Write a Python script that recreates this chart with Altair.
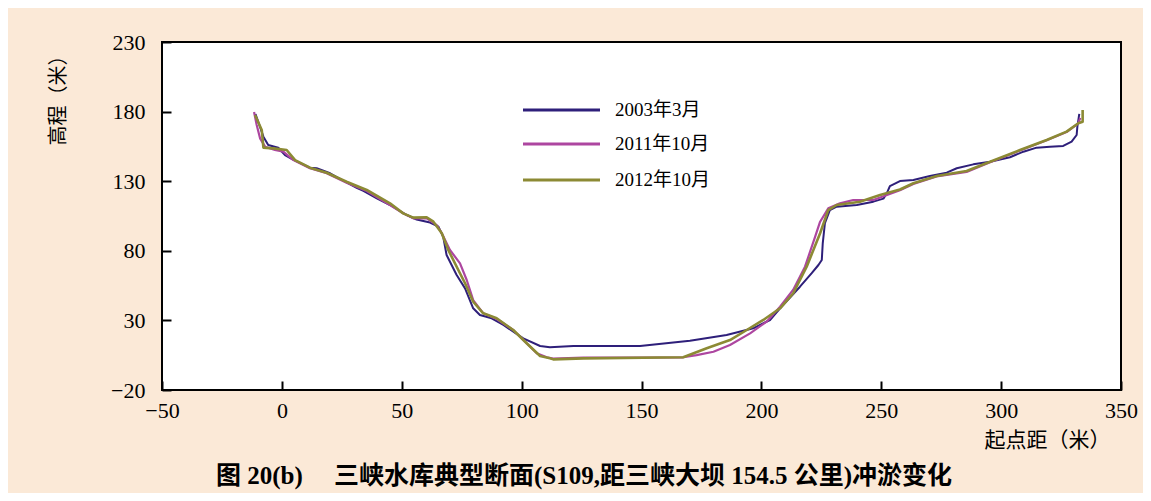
import altair as alt
import pandas as pd

# ---- data (distance from start point, elevation) ----
x_2003 = [-11.0, -7.7, -5.7, -1.5, 1.3, 4.1, 11.7, 14.5, 20.1, 24.2, 31.2, 34.0, 39.6, 45.1,
          52.1, 56.2, 61.8, 65.3, 67.3, 68.7, 72.9, 76.4, 79.8, 82.6, 87.5, 92.4, 100.7, 107.7,
          111.8, 121.6, 149.4, 170.2, 185.5, 196.6, 203.6, 207.8, 216.1, 221.0, 223.8, 225.2,
          225.6, 226.5, 228.6, 231.4, 239.8, 246.7, 250.9, 252.3, 253.6, 257.8, 263.4, 270.3,
          277.3, 281.5, 288.4, 295.4, 303.7, 309.3, 314.8, 320.4, 325.9, 329.4, 331.5, 331.8, 332.6]
y_2003 = [178.3, 162.0, 156.0, 154.0, 148.8, 146.0, 139.7, 139.3, 135.7, 131.6, 125.3, 123.0, 117.7, 112.9,
          105.7, 102.5, 100.3, 97.3, 90.0, 77.0, 62.6, 53.0, 38.7, 33.9, 31.5, 26.7, 17.1, 11.6,
          10.7, 11.6, 11.6, 15.4, 19.5, 24.3, 30.3, 38.7, 54.2, 63.9, 69.8, 73.4,
          85.4, 99.8, 109.3, 111.7, 112.9, 115.3, 117.5, 121.3, 126.5, 130.1, 130.9, 133.7,
          136.1, 139.3, 142.1, 144.0, 147.2, 151.2, 154.1, 154.8, 155.3, 158.4, 163.2, 169.2, 178.3]

x_2011 = [-11.6, -10.5, -9.1, -7.0, -2.9, 0.6, 4.8, 11.7, 18.7, 27.0, 35.4, 45.1, 50.6, 54.8,
          60.4, 64.6, 66.7, 70.1, 74.3, 77.1, 79.8, 84.0, 89.6, 96.5, 102.1, 106.3, 110.5, 113.2,
          125.8, 167.4, 173.0, 180.0, 186.9, 195.3, 202.2, 207.8, 213.3, 218.2, 222.4, 224.5,
          227.9, 232.8, 238.3, 246.7, 257.8, 263.4, 273.1, 285.6, 295.4, 307.9, 319.0, 327.3,
          332.2, 333.0]
y_2011 = [179.7, 170.4, 160.8, 154.8, 152.4, 151.2, 145.2, 139.3, 135.7, 128.9, 123.0, 112.9, 106.9, 103.3,
          103.3, 98.5, 92.6, 80.6, 71.0, 59.0, 44.6, 35.1, 31.0, 23.1, 13.6, 6.4, 3.5, 2.5,
          3.2, 3.5, 5.1, 7.5, 12.3, 20.7, 29.1, 39.9, 52.1, 68.6, 90.0, 100.9,
          110.5, 114.1, 116.5, 116.5, 123.5, 128.0, 133.4, 136.6, 143.6, 152.0, 159.4, 165.3,
          171.6, 175.5]

x_2012 = [-11.2, -8.4, -7.7, -3.6, 2.0, 5.5, 11.7, 18.7, 27.0, 35.4, 45.1, 50.6, 54.8, 60.4,
          63.2, 66.7, 69.4, 73.6, 76.4, 79.8, 84.0, 89.6, 96.5, 102.1, 107.7, 111.8, 113.2, 125.8,
          167.4, 177.2, 186.9, 193.9, 200.8, 207.8, 213.3, 218.9, 224.5, 227.9, 231.4, 241.1,
          249.5, 257.8, 263.4, 273.1, 285.6, 295.4, 307.9, 319.0, 327.3, 332.2, 334.0, 334.0]
y_2012 = [177.6, 166.8, 154.1, 153.6, 152.4, 145.2, 139.7, 136.1, 129.6, 123.7, 114.1, 106.9, 103.8, 104.1,
          100.9, 92.6, 80.6, 66.2, 56.7, 43.4, 35.1, 31.5, 23.1, 13.6, 4.4, 2.8, 2.0, 2.7,
          3.5, 10.0, 15.9, 23.1, 30.3, 38.7, 49.5, 68.6, 92.6, 109.3, 112.9, 115.3,
          120.1, 124.0, 128.5, 133.7, 137.3, 144.0, 152.4, 159.6, 165.6, 171.6, 172.7, 181.1]

series_names = ["2003年3月", "2011年10月", "2012年10月"]
series_colors = ["#2E1F7A", "#AD46A0", "#8C8A34"]
series_widths = [2.0, 2.2, 2.6]

x_ticks = [-50, 0, 50, 100, 150, 200, 250, 300, 350]
y_ticks = [-20, 30, 80, 130, 180, 230]

x_title = "起点距（米）"
y_title = "高程（米）"
caption = "图 20(b)\u3000 三峡水库典型断面(S109,距三峡大坝 154.5 公里)冲淤变化"

# ---- build table ----
frames = []
for name, xs, ys in zip(series_names, [x_2003, x_2011, x_2012], [y_2003, y_2011, y_2012]):
    frames.append(pd.DataFrame({"series": name, "x": xs, "y": ys, "i": range(len(xs))}))
df = pd.concat(frames, ignore_index=True)

W, H = 959, 348
SERIF = "Liberation Serif, Noto Sans CJK SC"
CJK = "Noto Sans CJK SC"

xscale = alt.Scale(domain=[-50, 350], nice=False, zero=False)
yscale = alt.Scale(domain=[-20, 230], nice=False, zero=False)

x_label_axis = alt.Axis(orient="bottom", values=x_ticks, ticks=False, tickSize=0, domain=False,
                        grid=False, labelFont=SERIF, labelFontSize=22, labelColor="black",
                        labelPadding=10, labelFlush=False, labelOverlap=False,
                        title=x_title, titleFont=CJK, titleFontSize=21, titleFontWeight="normal",
                        titleColor="black", titleX=885, titleY=50, titleAlign="center",
                        titleBaseline="middle")
y_label_axis = alt.Axis(orient="left", values=y_ticks, ticks=False, tickSize=0, domain=False,
                        grid=False, labelFont=SERIF, labelFontSize=22, labelColor="black",
                        labelPadding=17, labelFlush=False, labelOverlap=False,
                        title=y_title, titleFont=CJK, titleFontSize=20, titleFontWeight="normal",
                        titleColor="black", titleX=-104, titleY=53, titleAlign="center",
                        titleBaseline="middle", titleAngle=270)
x_tick_axis = alt.Axis(orient="top", offset=-H, values=x_ticks, labels=False, ticks=True,
                       tickSize=9, tickWidth=2, tickColor="black", domain=False, grid=False,
                       zindex=2, title=None)
y_tick_axis = alt.Axis(orient="right", offset=-W, values=y_ticks, labels=False, ticks=True,
                       tickSize=9, tickWidth=2, tickColor="black", domain=False, grid=False,
                       zindex=2, title=None)

axes = [(x_label_axis, y_label_axis), (x_tick_axis, y_tick_axis), (None, None)]

layers = []
for k, (name, color, sw) in enumerate(zip(series_names, series_colors, series_widths)):
    xa, ya = axes[k]
    layers.append(
        alt.Chart(df).transform_filter(alt.datum.series == name)
        .mark_line(color=color, strokeWidth=sw, strokeJoin="round")
        .encode(x=alt.X("x:Q", scale=xscale, axis=xa),
                y=alt.Y("y:Q", scale=yscale, axis=ya),
                order="i:Q")
    )

# ---- legend drawn inside the plot ----
legend_rows = [68, 102, 138]
for name, color, ry in zip(series_names, series_colors, legend_rows):
    one = pd.DataFrame({"s": [name]})
    layers.append(alt.Chart(one).mark_rule(color=color, strokeWidth=3).encode(
        x=alt.value(361), x2=alt.value(438), y=alt.value(ry)))
    layers.append(alt.Chart(one).mark_text(align="left", baseline="middle", font=SERIF,
                                           fontSize=19, color="black").encode(
        x=alt.value(453), y=alt.value(ry), text="s:N"))

cap = pd.DataFrame({"t": [caption]})
layers.append(alt.Chart(cap).mark_text(align="center", baseline="middle", font=SERIF,
                                       fontSize=25, fontWeight="bold", color="black").encode(
    x=alt.value(422), y=alt.value(434), text="t:N"))

chart = (
    alt.layer(*layers)
    .resolve_axis(x="independent", y="independent")
    .properties(width=W, height=H, background="#FBE9D7",
                autosize=alt.AutoSizeParams(type="none"),
                padding={"left": 154, "top": 34, "right": 22, "bottom": 103})
    .configure_view(stroke="black", strokeWidth=2, fill="white")
)

chart.save("out.html", embed_options={"renderer": "svg", "actions": False})
